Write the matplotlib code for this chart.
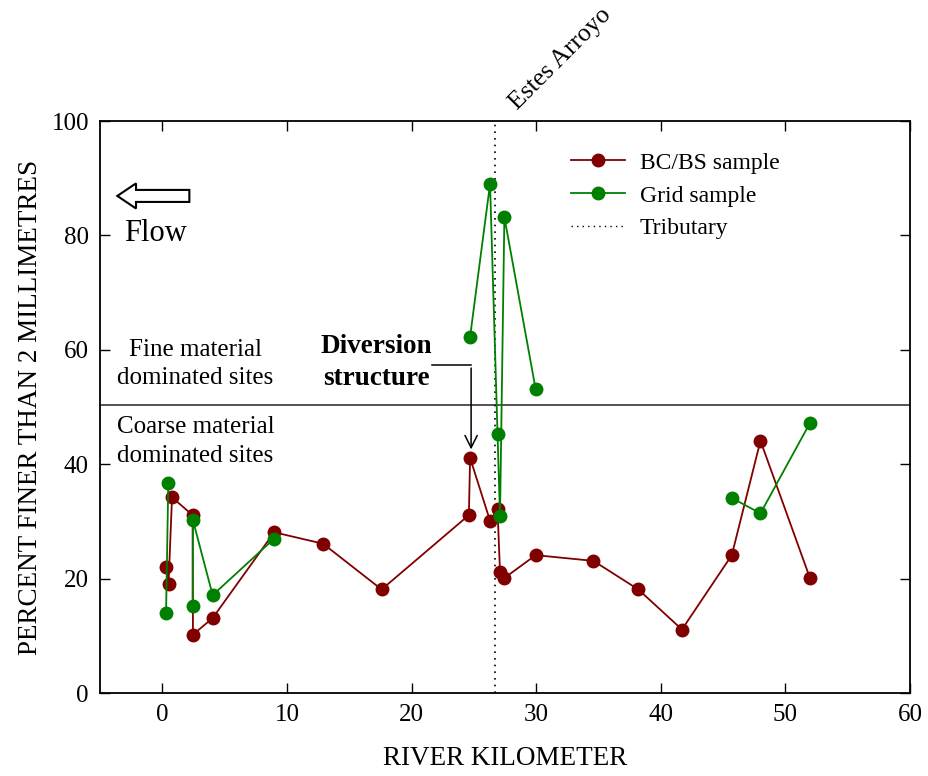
import numpy as np
import matplotlib
matplotlib.use("Agg")
import matplotlib.pyplot as plt
from matplotlib.patches import FancyArrow

plt.rcParams['font.family'] = ['Liberation Serif', 'DejaVu Serif']
plt.rcParams['mathtext.fontset'] = 'stix'

# BC/BS sample (river km, percent finer than 2 mm)
bc_km = [0.3, 0.5, 0.78, 2.43, 2.46, 4.04, 8.98, 12.9, 17.6, 24.6, 24.7, 26.3, 26.9,
         27.1, 27.45, 29.96, 34.6, 38.2, 41.7, 45.7, 48.0, 51.97]
bc_pct = [22.1, 19.1, 34.2, 31.1, 10.2, 13.1, 28.1, 26.1, 18.1, 31.1, 41.1, 30.1, 32.1,
          21.1, 20.1, 24.1, 23.1, 18.1, 11.1, 24.1, 44.1, 20.1]

# Grid sample (NaN separates unconnected groups)
grid_km = [0.48, 0.3, np.nan, 2.43, 2.46, 4.04, 8.98, np.nan,
           24.7, 26.3, 26.9, 27.1, 27.45, 29.96, np.nan, 45.7, 48.0, 51.97]
grid_pct = [36.8, 13.9, np.nan, 15.2, 30.2, 17.1, 27.0, np.nan,
            62.3, 89.0, 45.3, 30.9, 83.2, 53.1, np.nan, 34.1, 31.4, 47.2]

tributary_km = 26.7
threshold_pct = 50.4

fig = plt.figure(figsize=(9.29, 7.76), dpi=100)
ax = fig.add_axes([100/929, 83/776, 810/929, 572/776])

red = '#800000'
green = '#008000'

ax.axhline(threshold_pct, color='#444444', lw=1.3, zorder=1)
ax.axvline(tributary_km, color='black', lw=1.2, ls=(0, (1, 3)), zorder=1)

l1, = ax.plot(bc_km, bc_pct, '-o', color=red, lw=1.3, ms=9, label='BC/BS sample', zorder=3)
l2, = ax.plot(grid_km, grid_pct, '-o', color=green, lw=1.3, ms=9, label='Grid sample', zorder=4)
l3, = ax.plot([], [], color='black', lw=1.0, ls=(0, (1, 3)), label='Tributary')

ax.set_xlim(-5, 60)
ax.set_ylim(0, 100)
ax.set_xticks(np.arange(0, 61, 10))
ax.set_yticks(np.arange(0, 101, 20))
ax.tick_params(direction='in', length=7, width=1, top=True, right=True, labelsize=18, pad=8)
for s in ax.spines.values():
    s.set_linewidth(1.3)

ax.set_xlabel('RIVER KILOMETER', fontsize=19.5, labelpad=14)
ax.set_ylabel('PERCENT FINER THAN 2 MILLIMETRES', fontsize=19.5, labelpad=6)

leg = ax.legend(handles=[l1, l2, l3], loc='upper left', bbox_to_anchor=(0.57, 0.962),
                frameon=False, fontsize=17, handlelength=2.3, handletextpad=0.6,
                labelspacing=0.48, borderaxespad=0)

# Flow arrow
ax.add_patch(FancyArrow(2.17, 86.9, -5.78, 0, width=2.1, head_width=4.4, head_length=1.5,
                        length_includes_head=True, facecolor='white', edgecolor='black',
                        lw=1.5, zorder=5))
ax.text(-3.05, 80.4, 'Flow', fontsize=22, ha='left', va='center')

ax.text(2.65, 57.5, 'Fine material\ndominated sites', fontsize=18, ha='center', va='center',
        linespacing=1.4)
ax.text(2.65, 44.0, 'Coarse material\ndominated sites', fontsize=18, ha='center', va='center',
        linespacing=1.4)

ax.text(17.2, 57.8, 'Diversion\nstructure', fontsize=19.5, fontweight='bold', ha='center',
        va='center', linespacing=1.4)
ax.plot([21.65, 24.78], [57.3, 57.3], color='black', lw=1.1)
ax.annotate('', xy=(24.78, 42.1), xytext=(24.78, 57.3),
            arrowprops=dict(arrowstyle='->', color='black', lw=1.1, mutation_scale=22))

ax.text(28.5, 101.9, 'Estes Arroyo', fontsize=18.5, rotation=45, rotation_mode='anchor',
        ha='left', va='baseline', clip_on=False)

fig.savefig('out.png', dpi=100)
